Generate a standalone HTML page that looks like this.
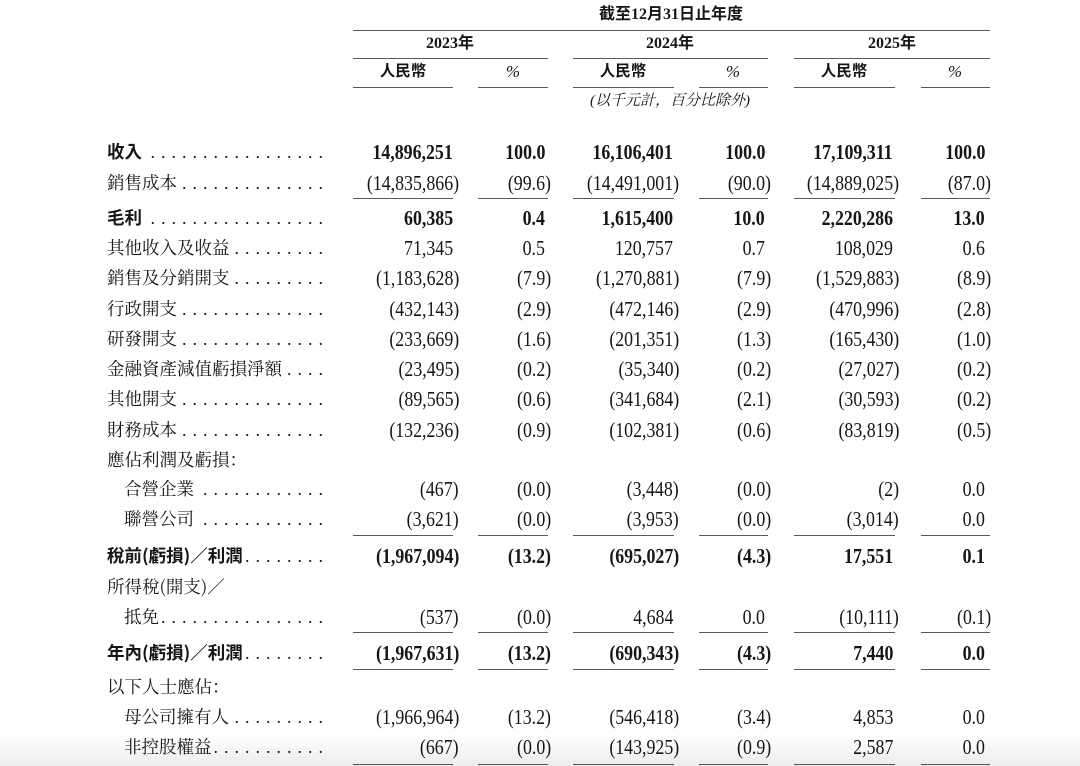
<!DOCTYPE html>
<html><head><meta charset="utf-8">
<style>
html,body{margin:0;padding:0;background:#fff;}
#p{position:relative;width:1080px;height:766px;overflow:hidden;background:#fff;color:#161616;}
.n{position:absolute;height:24px;line-height:24px;font-family:"Liberation Serif",serif;font-size:21.5px;white-space:nowrap;transform:scaleX(0.83);transform-origin:right center;}
.b{font-weight:bold;}
.neg{margin-right:-6px;}
.lab{position:absolute;left:107px;width:216px;height:24px;line-height:24px;display:flex;white-space:nowrap;font-family:"Noto Serif CJK SC","Liberation Serif",serif;font-size:17.5px;}
.lab.in{left:124px;width:199px;}
.lab .t{flex:0 0 auto;}
.lab.bl .t{font-family:"Noto Sans CJK TC","Liberation Sans",sans-serif;font-weight:bold;}
.dots{flex:1 1 auto;overflow:hidden;display:flex;justify-content:flex-end;margin-left:3px;}
.dots span{flex:0 0 auto;font-family:"Liberation Serif",serif;font-size:18px;letter-spacing:6px;margin-right:-6px;}
.ln{position:absolute;height:1.5px;background:#5a5a5a;}
.h{position:absolute;height:24px;line-height:24px;white-space:nowrap;transform:translateX(-50%);text-align:center;}
.hb{font-family:"Liberation Serif","Noto Sans CJK TC",sans-serif;font-weight:bold;font-size:16px;}
.hr{font-family:"Liberation Serif","Noto Sans CJK TC",sans-serif;font-weight:bold;font-size:15.5px;}
.pc{font-family:"Liberation Serif",serif;font-size:17px;font-style:italic;}
.it{font-family:"Liberation Serif","Noto Serif CJK SC",serif;font-style:italic;font-size:15px;}
#sh{position:absolute;left:0;top:735px;width:1080px;height:31px;background:linear-gradient(to bottom,rgba(0,0,0,0),rgba(0,0,0,0.075));}
</style></head><body><div id="p">

<!-- header -->
<div class="h hb" style="left:671px;top:3px;">截至12月31日止年度</div>
<div class="ln" style="left:353px;width:637px;top:29.5px;"></div>
<div class="h hb" style="left:450px;top:32px;">2023年</div>
<div class="h hb" style="left:670px;top:32px;">2024年</div>
<div class="h hb" style="left:892px;top:32px;">2025年</div>
<div class="ln" style="left:353px;width:195px;top:57.5px;"></div>
<div class="ln" style="left:573px;width:195px;top:57.5px;"></div>
<div class="ln" style="left:794px;width:196px;top:57.5px;"></div>
<div class="h hr" style="left:403px;top:60px;">人民幣</div>
<div class="h pc" style="left:513px;top:60px;">%</div>
<div class="h hr" style="left:623px;top:60px;">人民幣</div>
<div class="h pc" style="left:733px;top:60px;">%</div>
<div class="h hr" style="left:844px;top:60px;">人民幣</div>
<div class="h pc" style="left:955px;top:60px;">%</div>
<div class="ln" style="left:353px;width:100px;top:86.5px;"></div>
<div class="ln" style="left:478px;width:70px;top:86.5px;"></div>
<div class="ln" style="left:573px;width:101px;top:86.5px;"></div>
<div class="ln" style="left:699px;width:69px;top:86.5px;"></div>
<div class="ln" style="left:794px;width:101px;top:86.5px;"></div>
<div class="ln" style="left:921px;width:69px;top:86.5px;"></div>
<div class="h it" style="left:670px;top:89px;">(以千元計，百分比除外)</div>

<!-- labels -->
<div class="lab bl" style="top:140px;"><span class="t">收入</span><span class="dots"><span>..................................</span></span></div>
<div class="lab" style="top:170.5px;"><span class="t">銷售成本</span><span class="dots"><span>..................................</span></span></div>
<div class="lab bl" style="top:205.5px;"><span class="t">毛利</span><span class="dots"><span>..................................</span></span></div>
<div class="lab" style="top:236px;"><span class="t">其他收入及收益</span><span class="dots"><span>..................................</span></span></div>
<div class="lab" style="top:266px;"><span class="t">銷售及分銷開支</span><span class="dots"><span>..................................</span></span></div>
<div class="lab" style="top:296.5px;"><span class="t">行政開支</span><span class="dots"><span>..................................</span></span></div>
<div class="lab" style="top:326.5px;"><span class="t">研發開支</span><span class="dots"><span>..................................</span></span></div>
<div class="lab" style="top:357px;"><span class="t">金融資產減值虧損淨額</span><span class="dots"><span>..................................</span></span></div>
<div class="lab" style="top:387px;"><span class="t">其他開支</span><span class="dots"><span>..................................</span></span></div>
<div class="lab" style="top:417.5px;"><span class="t">財務成本</span><span class="dots"><span>..................................</span></span></div>
<div class="lab" style="top:447.5px;"><span class="t">應佔利潤及虧損：</span></div>
<div class="lab in" style="top:477px;"><span class="t">合營企業</span><span class="dots"><span>..................................</span></span></div>
<div class="lab in" style="top:507px;"><span class="t">聯營公司</span><span class="dots"><span>..................................</span></span></div>
<div class="lab bl" style="top:544px;"><span class="t">稅前(虧損)／利潤</span><span class="dots"><span>..................................</span></span></div>
<div class="lab" style="top:574.5px;"><span class="t">所得稅(開支)／</span></div>
<div class="lab in" style="top:605px;"><span class="t">抵免</span><span class="dots"><span>..................................</span></span></div>
<div class="lab bl" style="top:641px;"><span class="t">年內(虧損)／利潤</span><span class="dots"><span>..................................</span></span></div>
<div class="lab" style="top:675px;"><span class="t">以下人士應佔：</span></div>
<div class="lab in" style="top:705px;"><span class="t">母公司擁有人</span><span class="dots"><span>..................................</span></span></div>
<div class="lab in" style="top:735px;"><span class="t">非控股權益</span><span class="dots"><span>..................................</span></span></div>

<!-- row 收入 -->
<div class="n b" style="top:140px;right:627px;">14,896,251</div>
<div class="n b" style="top:140px;right:535px;">100.0</div>
<div class="n b" style="top:140px;right:407px;">16,106,401</div>
<div class="n b" style="top:140px;right:315px;">100.0</div>
<div class="n b" style="top:140px;right:187px;">17,109,311</div>
<div class="n b" style="top:140px;right:95px;">100.0</div>
<!-- 銷售成本 -->
<div class="n neg" style="top:170.5px;right:627px;">(14,835,866)</div>
<div class="n neg" style="top:170.5px;right:535px;">(99.6)</div>
<div class="n neg" style="top:170.5px;right:407px;">(14,491,001)</div>
<div class="n neg" style="top:170.5px;right:315px;">(90.0)</div>
<div class="n neg" style="top:170.5px;right:187px;">(14,889,025)</div>
<div class="n neg" style="top:170.5px;right:95px;">(87.0)</div>
<!-- line -->
<div class="ln" style="left:353px;width:100px;top:197.5px;"></div>
<div class="ln" style="left:478px;width:70px;top:197.5px;"></div>
<div class="ln" style="left:573px;width:101px;top:197.5px;"></div>
<div class="ln" style="left:699px;width:69px;top:197.5px;"></div>
<div class="ln" style="left:794px;width:101px;top:197.5px;"></div>
<div class="ln" style="left:921px;width:69px;top:197.5px;"></div>
<!-- 毛利 -->
<div class="n b" style="top:205.5px;right:627px;">60,385</div>
<div class="n b" style="top:205.5px;right:535px;">0.4</div>
<div class="n b" style="top:205.5px;right:407px;">1,615,400</div>
<div class="n b" style="top:205.5px;right:315px;">10.0</div>
<div class="n b" style="top:205.5px;right:187px;">2,220,286</div>
<div class="n b" style="top:205.5px;right:95px;">13.0</div>
<!-- 其他收入及收益 -->
<div class="n" style="top:236px;right:627px;">71,345</div>
<div class="n" style="top:236px;right:535px;">0.5</div>
<div class="n" style="top:236px;right:407px;">120,757</div>
<div class="n" style="top:236px;right:315px;">0.7</div>
<div class="n" style="top:236px;right:187px;">108,029</div>
<div class="n" style="top:236px;right:95px;">0.6</div>
<!-- 銷售及分銷開支 -->
<div class="n neg" style="top:266px;right:627px;">(1,183,628)</div>
<div class="n neg" style="top:266px;right:535px;">(7.9)</div>
<div class="n neg" style="top:266px;right:407px;">(1,270,881)</div>
<div class="n neg" style="top:266px;right:315px;">(7.9)</div>
<div class="n neg" style="top:266px;right:187px;">(1,529,883)</div>
<div class="n neg" style="top:266px;right:95px;">(8.9)</div>
<!-- 行政開支 -->
<div class="n neg" style="top:296.5px;right:627px;">(432,143)</div>
<div class="n neg" style="top:296.5px;right:535px;">(2.9)</div>
<div class="n neg" style="top:296.5px;right:407px;">(472,146)</div>
<div class="n neg" style="top:296.5px;right:315px;">(2.9)</div>
<div class="n neg" style="top:296.5px;right:187px;">(470,996)</div>
<div class="n neg" style="top:296.5px;right:95px;">(2.8)</div>
<!-- 研發開支 -->
<div class="n neg" style="top:326.5px;right:627px;">(233,669)</div>
<div class="n neg" style="top:326.5px;right:535px;">(1.6)</div>
<div class="n neg" style="top:326.5px;right:407px;">(201,351)</div>
<div class="n neg" style="top:326.5px;right:315px;">(1.3)</div>
<div class="n neg" style="top:326.5px;right:187px;">(165,430)</div>
<div class="n neg" style="top:326.5px;right:95px;">(1.0)</div>
<!-- 金融資產 -->
<div class="n neg" style="top:357px;right:627px;">(23,495)</div>
<div class="n neg" style="top:357px;right:535px;">(0.2)</div>
<div class="n neg" style="top:357px;right:407px;">(35,340)</div>
<div class="n neg" style="top:357px;right:315px;">(0.2)</div>
<div class="n neg" style="top:357px;right:187px;">(27,027)</div>
<div class="n neg" style="top:357px;right:95px;">(0.2)</div>
<!-- 其他開支 -->
<div class="n neg" style="top:387px;right:627px;">(89,565)</div>
<div class="n neg" style="top:387px;right:535px;">(0.6)</div>
<div class="n neg" style="top:387px;right:407px;">(341,684)</div>
<div class="n neg" style="top:387px;right:315px;">(2.1)</div>
<div class="n neg" style="top:387px;right:187px;">(30,593)</div>
<div class="n neg" style="top:387px;right:95px;">(0.2)</div>
<!-- 財務成本 -->
<div class="n neg" style="top:417.5px;right:627px;">(132,236)</div>
<div class="n neg" style="top:417.5px;right:535px;">(0.9)</div>
<div class="n neg" style="top:417.5px;right:407px;">(102,381)</div>
<div class="n neg" style="top:417.5px;right:315px;">(0.6)</div>
<div class="n neg" style="top:417.5px;right:187px;">(83,819)</div>
<div class="n neg" style="top:417.5px;right:95px;">(0.5)</div>
<!-- 合營企業 -->
<div class="n neg" style="top:477px;right:627px;">(467)</div>
<div class="n neg" style="top:477px;right:535px;">(0.0)</div>
<div class="n neg" style="top:477px;right:407px;">(3,448)</div>
<div class="n neg" style="top:477px;right:315px;">(0.0)</div>
<div class="n neg" style="top:477px;right:187px;">(2)</div>
<div class="n" style="top:477px;right:95px;">0.0</div>
<!-- 聯營公司 -->
<div class="n neg" style="top:507px;right:627px;">(3,621)</div>
<div class="n neg" style="top:507px;right:535px;">(0.0)</div>
<div class="n neg" style="top:507px;right:407px;">(3,953)</div>
<div class="n neg" style="top:507px;right:315px;">(0.0)</div>
<div class="n neg" style="top:507px;right:187px;">(3,014)</div>
<div class="n" style="top:507px;right:95px;">0.0</div>
<!-- line -->
<div class="ln" style="left:353px;width:100px;top:534.5px;"></div>
<div class="ln" style="left:478px;width:70px;top:534.5px;"></div>
<div class="ln" style="left:573px;width:101px;top:534.5px;"></div>
<div class="ln" style="left:699px;width:69px;top:534.5px;"></div>
<div class="ln" style="left:794px;width:101px;top:534.5px;"></div>
<div class="ln" style="left:921px;width:69px;top:534.5px;"></div>
<!-- 稅前 -->
<div class="n b neg" style="top:544px;right:627px;">(1,967,094)</div>
<div class="n b neg" style="top:544px;right:535px;">(13.2)</div>
<div class="n b neg" style="top:544px;right:407px;">(695,027)</div>
<div class="n b neg" style="top:544px;right:315px;">(4.3)</div>
<div class="n b" style="top:544px;right:187px;">17,551</div>
<div class="n b" style="top:544px;right:95px;">0.1</div>
<!-- 抵免 -->
<div class="n neg" style="top:605px;right:627px;">(537)</div>
<div class="n neg" style="top:605px;right:535px;">(0.0)</div>
<div class="n" style="top:605px;right:407px;">4,684</div>
<div class="n" style="top:605px;right:315px;">0.0</div>
<div class="n neg" style="top:605px;right:187px;">(10,111)</div>
<div class="n neg" style="top:605px;right:95px;">(0.1)</div>
<!-- line -->
<div class="ln" style="left:353px;width:100px;top:631.5px;"></div>
<div class="ln" style="left:478px;width:70px;top:631.5px;"></div>
<div class="ln" style="left:573px;width:101px;top:631.5px;"></div>
<div class="ln" style="left:699px;width:69px;top:631.5px;"></div>
<div class="ln" style="left:794px;width:101px;top:631.5px;"></div>
<div class="ln" style="left:921px;width:69px;top:631.5px;"></div>
<!-- 年內 -->
<div class="n b neg" style="top:641px;right:627px;">(1,967,631)</div>
<div class="n b neg" style="top:641px;right:535px;">(13.2)</div>
<div class="n b neg" style="top:641px;right:407px;">(690,343)</div>
<div class="n b neg" style="top:641px;right:315px;">(4.3)</div>
<div class="n b" style="top:641px;right:187px;">7,440</div>
<div class="n b" style="top:641px;right:95px;">0.0</div>
<!-- line -->
<div class="ln" style="left:353px;width:100px;top:668.5px;"></div>
<div class="ln" style="left:478px;width:70px;top:668.5px;"></div>
<div class="ln" style="left:573px;width:101px;top:668.5px;"></div>
<div class="ln" style="left:699px;width:69px;top:668.5px;"></div>
<div class="ln" style="left:794px;width:101px;top:668.5px;"></div>
<div class="ln" style="left:921px;width:69px;top:668.5px;"></div>
<!-- 母公司 -->
<div class="n neg" style="top:705px;right:627px;">(1,966,964)</div>
<div class="n neg" style="top:705px;right:535px;">(13.2)</div>
<div class="n neg" style="top:705px;right:407px;">(546,418)</div>
<div class="n neg" style="top:705px;right:315px;">(3.4)</div>
<div class="n" style="top:705px;right:187px;">4,853</div>
<div class="n" style="top:705px;right:95px;">0.0</div>
<!-- 非控股 -->
<div class="n neg" style="top:735px;right:627px;">(667)</div>
<div class="n neg" style="top:735px;right:535px;">(0.0)</div>
<div class="n neg" style="top:735px;right:407px;">(143,925)</div>
<div class="n neg" style="top:735px;right:315px;">(0.9)</div>
<div class="n" style="top:735px;right:187px;">2,587</div>
<div class="n" style="top:735px;right:95px;">0.0</div>
<!-- bottom line -->
<div class="ln" style="left:353px;width:100px;top:763.5px;"></div>
<div class="ln" style="left:478px;width:70px;top:763.5px;"></div>
<div class="ln" style="left:573px;width:101px;top:763.5px;"></div>
<div class="ln" style="left:699px;width:69px;top:763.5px;"></div>
<div class="ln" style="left:794px;width:101px;top:763.5px;"></div>
<div class="ln" style="left:921px;width:69px;top:763.5px;"></div>

<div id="sh"></div>
</div></body></html>
